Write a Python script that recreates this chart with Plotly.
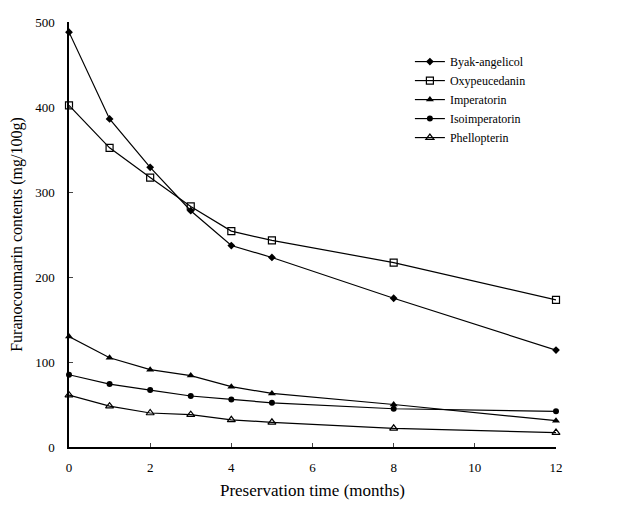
import plotly.graph_objects as go

months = [0, 1, 2, 3, 4, 5, 8, 12]
byak_angelicol = [488, 386, 329, 278, 237, 223, 175, 114]
oxypeucedanin = [402, 352, 317, 283, 254, 243, 217, 173]
imperatorin = [130, 105, 91, 84, 71, 63, 50, 31]
isoimperatorin = [85, 74, 67, 60, 56, 52, 45, 42]
phellopterin = [61, 48, 40, 38, 32, 29, 22, 17]

x_ticks = [0, 2, 4, 6, 8, 10, 12]
y_ticks = [0, 100, 200, 300, 400, 500]

series = [
    ("Byak-angelicol", byak_angelicol, dict(symbol="diamond", size=6, color="black")),
    ("Oxypeucedanin", oxypeucedanin, dict(symbol="square-open", size=7, color="black", line=dict(width=1.2))),
    ("Imperatorin", imperatorin, dict(symbol="triangle-up", size=7, color="black")),
    ("Isoimperatorin", isoimperatorin, dict(symbol="circle", size=6, color="black")),
    ("Phellopterin", phellopterin, dict(symbol="triangle-up-open", size=7, color="black", line=dict(width=1.2))),
]

fig = go.Figure()
for name, vals, mk in series:
    fig.add_trace(go.Scatter(
        x=months, y=vals, name=name, mode="lines+markers",
        line=dict(color="black", width=1.2), marker=mk, cliponaxis=False,
    ))

font = "Liberation Serif, Times New Roman, serif"
fig.update_layout(
    width=637, height=508,
    margin=dict(l=61, r=89, t=14, b=69),
    plot_bgcolor="white", paper_bgcolor="white",
    font=dict(family=font, size=13, color="black"),
    legend=dict(x=0.70, y=0.941, xanchor="left", yanchor="top",
                font=dict(family=font, size=12, color="black"),
                bgcolor="rgba(0,0,0,0)", tracegroupgap=0, itemwidth=30),
    xaxis=dict(
        range=[0, 12], tickvals=x_ticks, ticks="inside", ticklen=4,
        showline=True, linecolor="black", linewidth=1.5, showgrid=False,
        zeroline=False, tickfont=dict(size=13), ticklabelstandoff=8,
        title=dict(text="Preservation time (months)", font=dict(size=17), standoff=10),
    ),
    yaxis=dict(
        range=[0, 500], tickvals=y_ticks, ticks="inside", ticklen=4,
        showline=True, linecolor="black", linewidth=1.5, showgrid=False,
        zeroline=False, tickfont=dict(size=13), ticklabelstandoff=10,
        automargin=False,
        title=dict(text="Furanocoumarin contents (mg/100g)", font=dict(size=16), standoff=10),
    ),
)

fig.write_html("out.html")
